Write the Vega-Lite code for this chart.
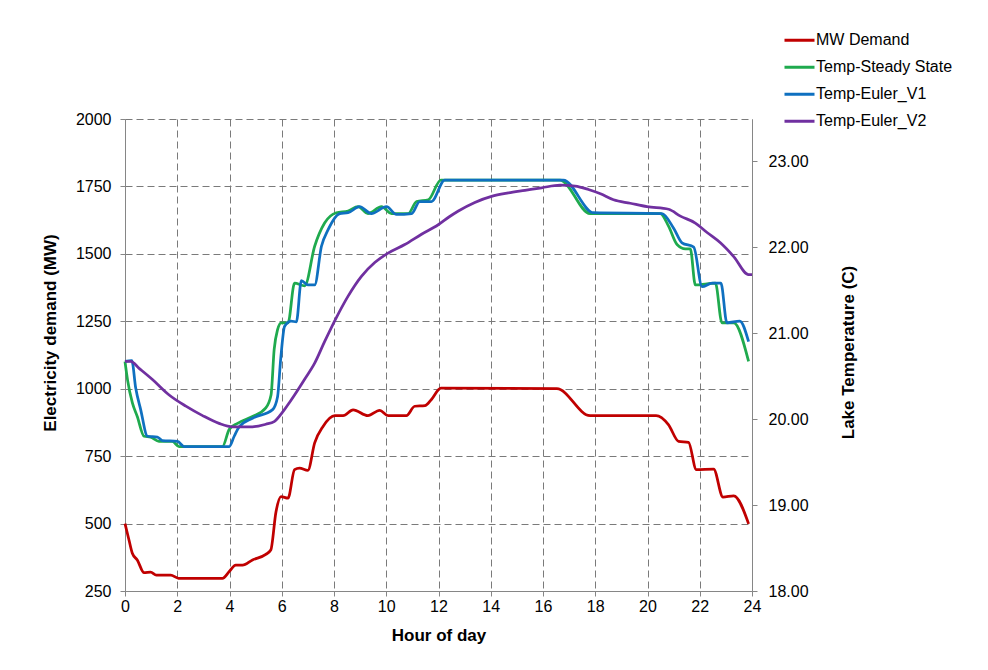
{
  "$schema": "https://vega.github.io/schema/vega-lite/v6.json",
  "width": 627,
  "height": 472,
  "autosize": {"type": "none"},
  "padding": {"left": 125, "top": 119, "right": 236, "bottom": 79},
  "background": "white",
  "config": {
    "view": {"stroke": null},
    "font": "Liberation Sans",
    "axis": {
      "labelFont": "Liberation Sans",
      "titleFont": "Liberation Sans",
      "labelFontSize": 16,
      "labelColor": "#000000",
      "titleFontSize": 17,
      "titleFontWeight": "bold",
      "titleColor": "#000000",
      "domainColor": "#868686",
      "tickColor": "#868686",
      "gridColor": "#7a7a7a",
      "gridDash": [7, 4],
      "gridWidth": 1,
      "gridOpacity": 1,
      "tickSize": 5,
      "labelFlush": false,
      "labelOverlap": false
    },
    "legend": {
      "labelFont": "Liberation Sans",
      "labelFontSize": 16,
      "labelColor": "#000000"
    }
  },
  "datasets": {
    "demand": [
      {"series": "MW Demand", "hour": 0, "mw": 500},
      {"series": "MW Demand", "hour": 0.15, "mw": 440},
      {"series": "MW Demand", "hour": 0.28, "mw": 390},
      {"series": "MW Demand", "hour": 0.47, "mw": 365},
      {"series": "MW Demand", "hour": 0.73, "mw": 318},
      {"series": "MW Demand", "hour": 0.98, "mw": 320},
      {"series": "MW Demand", "hour": 1.2, "mw": 309},
      {"series": "MW Demand", "hour": 1.75, "mw": 309},
      {"series": "MW Demand", "hour": 2.05, "mw": 297},
      {"series": "MW Demand", "hour": 3.73, "mw": 297},
      {"series": "MW Demand", "hour": 3.99, "mw": 322},
      {"series": "MW Demand", "hour": 4.24, "mw": 346},
      {"series": "MW Demand", "hour": 4.5, "mw": 346},
      {"series": "MW Demand", "hour": 4.88, "mw": 365},
      {"series": "MW Demand", "hour": 5.39, "mw": 386},
      {"series": "MW Demand", "hour": 5.58, "mw": 402},
      {"series": "MW Demand", "hour": 5.78, "mw": 544},
      {"series": "MW Demand", "hour": 5.97, "mw": 600},
      {"series": "MW Demand", "hour": 6.24, "mw": 594},
      {"series": "MW Demand", "hour": 6.49, "mw": 700},
      {"series": "MW Demand", "hour": 6.68, "mw": 706},
      {"series": "MW Demand", "hour": 7.0, "mw": 697},
      {"series": "MW Demand", "hour": 7.26, "mw": 799},
      {"series": "MW Demand", "hour": 7.58, "mw": 860},
      {"series": "MW Demand", "hour": 8.03, "mw": 900},
      {"series": "MW Demand", "hour": 8.35, "mw": 900},
      {"series": "MW Demand", "hour": 8.73, "mw": 922},
      {"series": "MW Demand", "hour": 9.3, "mw": 900},
      {"series": "MW Demand", "hour": 9.75, "mw": 920},
      {"series": "MW Demand", "hour": 10.07, "mw": 900},
      {"series": "MW Demand", "hour": 10.77, "mw": 900},
      {"series": "MW Demand", "hour": 11.09, "mw": 935},
      {"series": "MW Demand", "hour": 11.48, "mw": 937},
      {"series": "MW Demand", "hour": 11.73, "mw": 960},
      {"series": "MW Demand", "hour": 12.09, "mw": 1002},
      {"series": "MW Demand", "hour": 16.53, "mw": 1000},
      {"series": "MW Demand", "hour": 17.8, "mw": 900},
      {"series": "MW Demand", "hour": 20.33, "mw": 900},
      {"series": "MW Demand", "hour": 20.8, "mw": 867},
      {"series": "MW Demand", "hour": 21.19, "mw": 805},
      {"series": "MW Demand", "hour": 21.57, "mw": 801},
      {"series": "MW Demand", "hour": 21.87, "mw": 700},
      {"series": "MW Demand", "hour": 22.53, "mw": 702},
      {"series": "MW Demand", "hour": 22.89, "mw": 598},
      {"series": "MW Demand", "hour": 23.3, "mw": 603},
      {"series": "MW Demand", "hour": 23.87, "mw": 499}
    ],
    "temps": [
      {"series": "Temp-Steady State", "hour": 0, "temp": 20.67},
      {"series": "Temp-Steady State", "hour": 0.1, "temp": 20.45},
      {"series": "Temp-Steady State", "hour": 0.28, "temp": 20.19},
      {"series": "Temp-Steady State", "hour": 0.47, "temp": 20.03},
      {"series": "Temp-Steady State", "hour": 0.73, "temp": 19.8},
      {"series": "Temp-Steady State", "hour": 0.98, "temp": 19.79},
      {"series": "Temp-Steady State", "hour": 1.3, "temp": 19.74},
      {"series": "Temp-Steady State", "hour": 1.81, "temp": 19.74},
      {"series": "Temp-Steady State", "hour": 2.07, "temp": 19.68},
      {"series": "Temp-Steady State", "hour": 3.73, "temp": 19.68},
      {"series": "Temp-Steady State", "hour": 3.99, "temp": 19.88},
      {"series": "Temp-Steady State", "hour": 4.31, "temp": 19.95},
      {"series": "Temp-Steady State", "hour": 4.88, "temp": 20.03},
      {"series": "Temp-Steady State", "hour": 5.39, "temp": 20.13},
      {"series": "Temp-Steady State", "hour": 5.59, "temp": 20.28},
      {"series": "Temp-Steady State", "hour": 5.71, "temp": 20.81},
      {"series": "Temp-Steady State", "hour": 5.84, "temp": 21.04},
      {"series": "Temp-Steady State", "hour": 5.98, "temp": 21.12},
      {"series": "Temp-Steady State", "hour": 6.24, "temp": 21.12},
      {"series": "Temp-Steady State", "hour": 6.49, "temp": 21.58},
      {"series": "Temp-Steady State", "hour": 6.88, "temp": 21.55},
      {"series": "Temp-Steady State", "hour": 7.26, "temp": 22.01},
      {"series": "Temp-Steady State", "hour": 7.64, "temp": 22.28},
      {"series": "Temp-Steady State", "hour": 8.09, "temp": 22.4},
      {"series": "Temp-Steady State", "hour": 8.54, "temp": 22.42},
      {"series": "Temp-Steady State", "hour": 8.92, "temp": 22.47},
      {"series": "Temp-Steady State", "hour": 9.3, "temp": 22.39},
      {"series": "Temp-Steady State", "hour": 9.82, "temp": 22.47},
      {"series": "Temp-Steady State", "hour": 10.2, "temp": 22.39},
      {"series": "Temp-Steady State", "hour": 10.84, "temp": 22.39},
      {"series": "Temp-Steady State", "hour": 11.16, "temp": 22.53},
      {"series": "Temp-Steady State", "hour": 11.61, "temp": 22.55},
      {"series": "Temp-Steady State", "hour": 12.09, "temp": 22.78},
      {"series": "Temp-Steady State", "hour": 16.65, "temp": 22.78},
      {"series": "Temp-Steady State", "hour": 17.8, "temp": 22.39},
      {"series": "Temp-Steady State", "hour": 20.49, "temp": 22.39},
      {"series": "Temp-Steady State", "hour": 20.81, "temp": 22.24},
      {"series": "Temp-Steady State", "hour": 21.13, "temp": 22.03},
      {"series": "Temp-Steady State", "hour": 21.45, "temp": 21.98},
      {"series": "Temp-Steady State", "hour": 21.64, "temp": 21.98},
      {"series": "Temp-Steady State", "hour": 21.83, "temp": 21.56},
      {"series": "Temp-Steady State", "hour": 22.6, "temp": 21.58},
      {"series": "Temp-Steady State", "hour": 22.85, "temp": 21.12},
      {"series": "Temp-Steady State", "hour": 23.3, "temp": 21.12},
      {"series": "Temp-Steady State", "hour": 23.87, "temp": 20.67},
      {"series": "Temp-Euler_V1", "hour": 0, "temp": 20.67},
      {"series": "Temp-Euler_V1", "hour": 0.26, "temp": 20.68},
      {"series": "Temp-Euler_V1", "hour": 0.41, "temp": 20.36},
      {"series": "Temp-Euler_V1", "hour": 0.6, "temp": 20.11},
      {"series": "Temp-Euler_V1", "hour": 0.86, "temp": 19.8},
      {"series": "Temp-Euler_V1", "hour": 1.24, "temp": 19.79},
      {"series": "Temp-Euler_V1", "hour": 1.43, "temp": 19.75},
      {"series": "Temp-Euler_V1", "hour": 2.01, "temp": 19.74},
      {"series": "Temp-Euler_V1", "hour": 2.26, "temp": 19.68},
      {"series": "Temp-Euler_V1", "hour": 3.99, "temp": 19.68},
      {"series": "Temp-Euler_V1", "hour": 4.18, "temp": 19.8},
      {"series": "Temp-Euler_V1", "hour": 4.37, "temp": 19.91},
      {"series": "Temp-Euler_V1", "hour": 4.88, "temp": 20.01},
      {"series": "Temp-Euler_V1", "hour": 5.65, "temp": 20.11},
      {"series": "Temp-Euler_V1", "hour": 5.84, "temp": 20.26},
      {"series": "Temp-Euler_V1", "hour": 5.96, "temp": 20.7},
      {"series": "Temp-Euler_V1", "hour": 6.11, "temp": 21.08},
      {"series": "Temp-Euler_V1", "hour": 6.36, "temp": 21.14},
      {"series": "Temp-Euler_V1", "hour": 6.56, "temp": 21.13},
      {"series": "Temp-Euler_V1", "hour": 6.75, "temp": 21.61},
      {"series": "Temp-Euler_V1", "hour": 7.0, "temp": 21.56},
      {"series": "Temp-Euler_V1", "hour": 7.26, "temp": 21.56},
      {"series": "Temp-Euler_V1", "hour": 7.52, "temp": 22.01},
      {"series": "Temp-Euler_V1", "hour": 7.77, "temp": 22.2},
      {"series": "Temp-Euler_V1", "hour": 8.22, "temp": 22.39},
      {"series": "Temp-Euler_V1", "hour": 8.54, "temp": 22.4},
      {"series": "Temp-Euler_V1", "hour": 8.98, "temp": 22.47},
      {"series": "Temp-Euler_V1", "hour": 9.43, "temp": 22.39},
      {"series": "Temp-Euler_V1", "hour": 10.01, "temp": 22.47},
      {"series": "Temp-Euler_V1", "hour": 10.39, "temp": 22.38},
      {"series": "Temp-Euler_V1", "hour": 10.97, "temp": 22.39},
      {"series": "Temp-Euler_V1", "hour": 11.28, "temp": 22.53},
      {"series": "Temp-Euler_V1", "hour": 11.73, "temp": 22.53},
      {"series": "Temp-Euler_V1", "hour": 12.24, "temp": 22.78},
      {"series": "Temp-Euler_V1", "hour": 16.78, "temp": 22.78},
      {"series": "Temp-Euler_V1", "hour": 17.93, "temp": 22.4},
      {"series": "Temp-Euler_V1", "hour": 20.55, "temp": 22.39},
      {"series": "Temp-Euler_V1", "hour": 21.0, "temp": 22.22},
      {"series": "Temp-Euler_V1", "hour": 21.32, "temp": 22.05},
      {"series": "Temp-Euler_V1", "hour": 21.77, "temp": 22.0},
      {"series": "Temp-Euler_V1", "hour": 22.09, "temp": 21.54},
      {"series": "Temp-Euler_V1", "hour": 22.47, "temp": 21.58},
      {"series": "Temp-Euler_V1", "hour": 22.81, "temp": 21.58},
      {"series": "Temp-Euler_V1", "hour": 23.04, "temp": 21.12},
      {"series": "Temp-Euler_V1", "hour": 23.53, "temp": 21.14},
      {"series": "Temp-Euler_V1", "hour": 23.87, "temp": 20.9},
      {"series": "Temp-Euler_V2", "hour": 0, "temp": 20.67},
      {"series": "Temp-Euler_V2", "hour": 0.22, "temp": 20.67},
      {"series": "Temp-Euler_V2", "hour": 0.54, "temp": 20.59},
      {"series": "Temp-Euler_V2", "hour": 1.05, "temp": 20.46},
      {"series": "Temp-Euler_V2", "hour": 1.69, "temp": 20.28},
      {"series": "Temp-Euler_V2", "hour": 2.33, "temp": 20.15},
      {"series": "Temp-Euler_V2", "hour": 2.97, "temp": 20.04},
      {"series": "Temp-Euler_V2", "hour": 3.6, "temp": 19.95},
      {"series": "Temp-Euler_V2", "hour": 4.12, "temp": 19.91},
      {"series": "Temp-Euler_V2", "hour": 4.88, "temp": 19.91},
      {"series": "Temp-Euler_V2", "hour": 5.39, "temp": 19.94},
      {"series": "Temp-Euler_V2", "hour": 5.71, "temp": 19.97},
      {"series": "Temp-Euler_V2", "hour": 6.03, "temp": 20.08},
      {"series": "Temp-Euler_V2", "hour": 6.29, "temp": 20.19},
      {"series": "Temp-Euler_V2", "hour": 6.49, "temp": 20.28},
      {"series": "Temp-Euler_V2", "hour": 6.87, "temp": 20.46},
      {"series": "Temp-Euler_V2", "hour": 7.26, "temp": 20.65},
      {"series": "Temp-Euler_V2", "hour": 7.64, "temp": 20.9},
      {"series": "Temp-Euler_V2", "hour": 8.09, "temp": 21.18},
      {"series": "Temp-Euler_V2", "hour": 8.54, "temp": 21.43},
      {"series": "Temp-Euler_V2", "hour": 9.05, "temp": 21.66},
      {"series": "Temp-Euler_V2", "hour": 9.56, "temp": 21.82},
      {"series": "Temp-Euler_V2", "hour": 10.07, "temp": 21.93},
      {"series": "Temp-Euler_V2", "hour": 10.71, "temp": 22.03},
      {"series": "Temp-Euler_V2", "hour": 11.35, "temp": 22.15},
      {"series": "Temp-Euler_V2", "hour": 11.99, "temp": 22.26},
      {"series": "Temp-Euler_V2", "hour": 12.4, "temp": 22.35},
      {"series": "Temp-Euler_V2", "hour": 12.76, "temp": 22.42},
      {"series": "Temp-Euler_V2", "hour": 13.39, "temp": 22.52},
      {"series": "Temp-Euler_V2", "hour": 14.03, "temp": 22.59},
      {"series": "Temp-Euler_V2", "hour": 14.67, "temp": 22.63},
      {"series": "Temp-Euler_V2", "hour": 15.31, "temp": 22.66},
      {"series": "Temp-Euler_V2", "hour": 15.95, "temp": 22.69},
      {"series": "Temp-Euler_V2", "hour": 16.65, "temp": 22.72},
      {"series": "Temp-Euler_V2", "hour": 17.23, "temp": 22.71},
      {"series": "Temp-Euler_V2", "hour": 17.74, "temp": 22.67},
      {"series": "Temp-Euler_V2", "hour": 18.2, "temp": 22.62},
      {"series": "Temp-Euler_V2", "hour": 18.7, "temp": 22.55},
      {"series": "Temp-Euler_V2", "hour": 19.34, "temp": 22.51},
      {"series": "Temp-Euler_V2", "hour": 19.98, "temp": 22.47},
      {"series": "Temp-Euler_V2", "hour": 20.81, "temp": 22.44},
      {"series": "Temp-Euler_V2", "hour": 21.26, "temp": 22.36},
      {"series": "Temp-Euler_V2", "hour": 21.83, "temp": 22.28},
      {"series": "Temp-Euler_V2", "hour": 22.28, "temp": 22.17},
      {"series": "Temp-Euler_V2", "hour": 22.79, "temp": 22.05},
      {"series": "Temp-Euler_V2", "hour": 23.3, "temp": 21.89},
      {"series": "Temp-Euler_V2", "hour": 23.87, "temp": 21.68},
      {"series": "Temp-Euler_V2", "hour": 24.0, "temp": 21.68}
    ]
  },
  "encoding": {
    "x": {
      "field": "hour",
      "type": "quantitative",
      "scale": {"domain": [0, 24], "nice": false, "zero": false},
      "axis": {
        "title": "Hour of day",
        "values": [0, 2, 4, 6, 8, 10, 12, 14, 16, 18, 20, 22, 24],
        "grid": true,
        "labelPadding": 2,
        "titleBaseline": "alphabetic",
        "titleY": 49.5
      }
    },
    "color": {
      "field": "series",
      "type": "nominal",
      "scale": {
        "domain": ["MW Demand", "Temp-Steady State", "Temp-Euler_V1", "Temp-Euler_V2"],
        "range": ["#C00000", "#1FAA4E", "#0F70C0", "#7030A0"]
      },
      "legend": {
        "title": null,
        "orient": "none",
        "legendX": 658,
        "legendY": -92,
        "symbolType": "stroke",
        "symbolSize": 900,
        "symbolStrokeWidth": 3,
        "labelOffset": 0,
        "rowPadding": 0,
        "clipHeight": 26.7,
        "padding": 0
      }
    }
  },
  "layer": [
    {
      "data": {"name": "demand"},
      "mark": {"type": "line", "interpolate": "monotone", "strokeWidth": 2.75},
      "encoding": {
        "y": {
          "field": "mw",
          "type": "quantitative",
          "scale": {"domain": [250, 2000], "nice": false, "zero": false},
          "axis": {
            "title": "Electricity demand (MW)",
            "values": [250, 500, 750, 1000, 1250, 1500, 1750, 2000],
            "format": "d",
            "grid": true,
            "labelPadding": 9,
            "titleBaseline": "alphabetic",
            "titleAngle": 270,
            "titleX": -70,
            "titleY": 213.5
          }
        }
      }
    },
    {
      "data": {"name": "temps"},
      "mark": {"type": "line", "interpolate": "monotone", "strokeWidth": 2.75},
      "encoding": {
        "y": {
          "field": "temp",
          "type": "quantitative",
          "scale": {"domain": [18, 23.49], "nice": false, "zero": false},
          "axis": {
            "title": "Lake Temperature (C)",
            "orient": "right",
            "values": [18, 19, 20, 21, 22, 23],
            "format": ".2f",
            "grid": false,
            "labelPadding": 11,
            "titleBaseline": "alphabetic",
            "titleAngle": 270,
            "titleX": 101.5,
            "titleY": 233
          }
        }
      }
    }
  ],
  "resolve": {"scale": {"y": "independent"}}
}
